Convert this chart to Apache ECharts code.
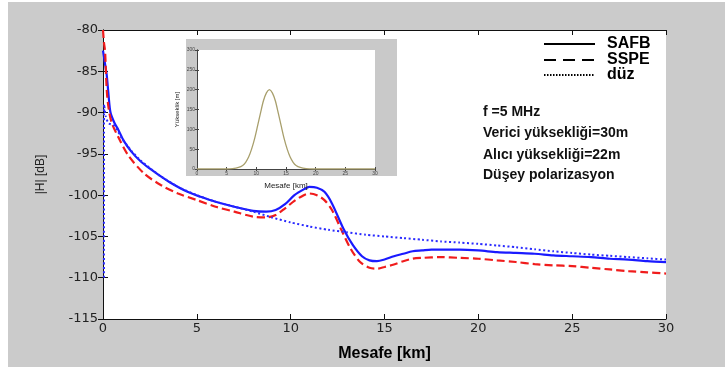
<!DOCTYPE html>
<html>
<head>
<meta charset="utf-8">
<script src="https://cdn.jsdelivr.net/npm/echarts@6/dist/echarts.min.js"></script>
<style>
  html, body { margin: 0; padding: 0; background: #fff; }
  #chart { width: 725px; height: 367px; }
</style>
</head>
<body>
<div id="chart"></div>
<script>
// main chart: |H| [dB] vs distance [km]
const safbKm = [0, 0.1, 0.2, 0.3, 0.4, 0.6, 0.82, 1.1, 1.5, 2, 2.5, 3, 3.6, 4.5, 5.2, 6, 7, 8, 8.7, 9.2, 9.7, 10.2, 10.7, 11, 11.4, 11.8, 12.2, 12.8, 13.3, 13.8, 14.2, 14.6, 15, 15.5, 16, 16.5, 17, 17.5, 18, 19, 20, 21, 22, 23, 24, 25, 26, 27, 28, 29, 30];
const safbDb = [-82.5, -84, -85.5, -88, -90, -91.2, -92.1, -93.4, -94.7, -95.9, -96.8, -97.6, -98.5, -99.6, -100.2, -100.8, -101.4, -101.9, -102.0, -101.8, -101.1, -100.0, -99.3, -99.0, -99.1, -99.6, -101.0, -104.0, -106.0, -107.4, -107.9, -108.0, -107.8, -107.4, -107.1, -106.8, -106.7, -106.6, -106.6, -106.6, -106.7, -106.9, -107.0, -107.1, -107.3, -107.4, -107.5, -107.7, -107.8, -108.0, -108.1];

const sspeKm = [0, 0.05, 0.11, 0.2, 0.3, 0.46, 0.82, 1.35, 2.2, 3.1, 4, 5, 6, 7, 8, 8.7, 9.2, 9.7, 10.2, 10.7, 11, 11.4, 11.8, 12.2, 12.7, 13.2, 13.7, 14.2, 14.6, 15, 15.5, 16, 16.5, 17, 18, 19, 20, 21, 22, 23, 24, 25, 26, 27, 28, 29, 30];
const sspeDb = [-80, -81.5, -82.6, -87.3, -89.5, -91.2, -93.0, -95.2, -97.4, -98.8, -99.8, -100.6, -101.4, -102.0, -102.6, -102.7, -102.4, -101.6, -100.7, -100.0, -99.8, -100.0, -100.6, -101.8, -104.2, -106.5, -108.1, -108.8, -108.9, -108.7, -108.4, -108.0, -107.7, -107.6, -107.5, -107.6, -107.7, -107.9, -108.1, -108.35, -108.5, -108.6, -108.8, -109.0, -109.2, -109.35, -109.5];

const duzKm = [0.05, 0.06, 0.15, 0.3, 0.6, 1, 1.5, 2, 3, 4, 5, 6, 7, 8, 9, 10, 11, 12, 13, 14, 15, 16, 17, 18, 19, 20, 21, 22, 23, 24, 25, 26, 27, 28, 29, 30];
const duzDb = [-110, -89, -90.5, -91.3, -91.6, -93.1, -94.6, -95.8, -97.6, -99.0, -100.0, -100.8, -101.4, -102.0, -102.7, -103.3, -103.8, -104.2, -104.5, -104.8, -105.0, -105.2, -105.4, -105.6, -105.75, -105.9, -106.1, -106.3, -106.55, -106.8, -107.0, -107.2, -107.35, -107.5, -107.65, -107.8];

// inset: terrain height [m] vs distance [km]
const terrainKm = [0, 5, 6, 7, 7.7, 8.2, 8.7, 9.2, 9.7, 10.2, 10.7, 11.2, 11.7, 12.2, 12.7, 13.2, 13.7, 14.2, 14.7, 15.2, 15.7, 16.2, 16.7, 17.4, 18.4, 19.5, 30];
const terrainM = [0, 0, 1, 4, 9, 17, 30, 50, 76, 108, 141, 172, 192, 200, 192, 172, 141, 108, 76, 50, 30, 17, 9, 4, 1, 0, 0];

const legendNames = ['SAFB', 'SSPE', 'düz'];
const annotations = ['f =5 MHz', 'Verici yüksekliği=30m', 'Alıcı yüksekliği=22m', 'Düşey polarizasyon'];

const zip = (xs, ys) => xs.map((x, i) => [x, ys[i]]);

const chart = echarts.init(document.getElementById('chart'));

const font = 'Liberation Sans, Arial, sans-serif';
const tickFont = 'DejaVu Sans, sans-serif';
const mainAxis = {
  min: 0, max: 30, interval: 5,
  axisLine: { lineStyle: { color: '#111', width: 1 } },
  axisTick: { inside: true, length: 5, lineStyle: { color: '#111' } },
  splitLine: { show: false },
};
const insetAxis = {
  gridIndex: 1, z: 5,
  axisLine: { lineStyle: { color: '#444', width: 1 } },
  axisTick: { inside: true, length: 2, lineStyle: { color: '#444' } },
  splitLine: { show: false },
};

// legend drawn by hand so the samples are black and carry no symbols
const legendDash = [null, [12, 7], [1.5, 1.5]];
const legendY = [44, 60, 75];
const legendGraphics = [];
legendNames.forEach((n, i) => {
  legendGraphics.push({
    type: 'line', z: 10,
    shape: { x1: 544, y1: legendY[i], x2: 595, y2: legendY[i] },
    style: { stroke: '#000', lineWidth: 2, lineDash: legendDash[i] },
  });
  legendGraphics.push({
    type: 'text', z: 10, x: 607, y: legendY[i],
    style: { text: n, font: 'bold 16px ' + font, fill: '#000', verticalAlign: 'middle' },
  });
});

const annoY = [112, 133, 155, 175];

chart.setOption({
  backgroundColor: '#fff',
  animation: false,
  textStyle: { fontFamily: font },
  grid: [
    { left: 103, top: 30, width: 563, height: 296, show: true, backgroundColor: '#fff', borderWidth: 0 },
    { left: 197, top: 50, width: 178, height: 119, show: false },
  ],
  xAxis: [
    Object.assign({}, mainAxis, {
      type: 'value', gridIndex: 0, position: 'bottom',
      name: 'Mesafe [km]', nameLocation: 'middle', nameGap: 27,
      nameTextStyle: { fontSize: 16, fontWeight: 'bold', color: '#000' },
      axisLabel: { fontSize: 13, fontFamily: tickFont, color: '#222', margin: 3 },
    }),
    Object.assign({}, mainAxis, { type: 'value', gridIndex: 0, position: 'top', axisLabel: { show: false } }),
    Object.assign({}, insetAxis, {
      type: 'value', min: 0, max: 30, interval: 5, position: 'bottom',
      name: 'Mesafe [km]', nameLocation: 'middle', nameGap: 13,
      nameTextStyle: { fontSize: 8, color: '#222' },
      axisLabel: { fontSize: 5, color: '#444', margin: 2 },
    }),
    Object.assign({}, insetAxis, { type: 'value', min: 0, max: 30, interval: 5, position: 'top', axisLabel: { show: false } }),
  ],
  yAxis: [
    Object.assign({}, mainAxis, {
      type: 'value', gridIndex: 0, min: -115, max: -80, interval: 5, position: 'left',
      name: '|H| [dB]', nameLocation: 'middle', nameGap: 56, nameRotate: 90,
      nameTextStyle: { fontSize: 12, color: '#222' },
      axisLabel: { fontSize: 13, fontFamily: tickFont, color: '#222', margin: 5 },
    }),
    Object.assign({}, mainAxis, { type: 'value', gridIndex: 0, min: -115, max: -80, interval: 5, position: 'right', axisLabel: { show: false } }),
    Object.assign({}, insetAxis, {
      type: 'value', min: 0, max: 300, interval: 50, position: 'left',
      name: 'Yükseklik [m]', nameLocation: 'middle', nameGap: 17, nameRotate: 90,
      nameTextStyle: { fontSize: 6, color: '#222' },
      axisLabel: { fontSize: 5, color: '#444', margin: 2 },
    }),
    Object.assign({}, insetAxis, { type: 'value', min: 0, max: 300, interval: 50, position: 'right', axisLabel: { show: false } }),
  ],
  graphic: [
    { type: 'rect', z: -10, shape: { x: 8, y: 2, width: 717, height: 365 }, style: { fill: '#cbcbcb' } },
    { type: 'rect', z: 1, shape: { x: 186, y: 39, width: 211, height: 137 }, style: { fill: '#c9c9c9' } },
    { type: 'rect', z: 1, z2: 5, shape: { x: 197, y: 50, width: 178, height: 119 }, style: { fill: '#fff' } },
  ].concat(legendGraphics).concat(annotations.map((t, i) => ({
    type: 'text', z: 10, x: 483, y: annoY[i],
    style: { text: t, font: 'bold 14px ' + font, fill: '#111', verticalAlign: 'middle' },
  }))),
  series: [
    {
      name: 'SAFB', type: 'line', xAxisIndex: 0, yAxisIndex: 0, symbol: 'none',
      data: zip(safbKm, safbDb), smooth: 0.3,
      lineStyle: { color: '#1a1aff', width: 2.2 },
    },
    {
      name: 'SSPE', type: 'line', xAxisIndex: 0, yAxisIndex: 0, symbol: 'none',
      data: zip(sspeKm, sspeDb), smooth: 0.3,
      lineStyle: { color: '#f01c1c', width: 2.2, type: [8, 4] },
    },
    {
      name: 'düz', type: 'line', xAxisIndex: 0, yAxisIndex: 0, symbol: 'none',
      data: zip(duzKm, duzDb), smooth: 0.2,
      lineStyle: { color: '#2a2aff', width: 2, type: [2, 2.5] },
    },
    {
      name: 'terrain', type: 'line', xAxisIndex: 2, yAxisIndex: 2, symbol: 'none', z: 6,
      data: zip(terrainKm, terrainM), smooth: 0.3,
      lineStyle: { color: '#a89f6c', width: 1.3 },
    },
  ],
});
</script>
</body>
</html>
